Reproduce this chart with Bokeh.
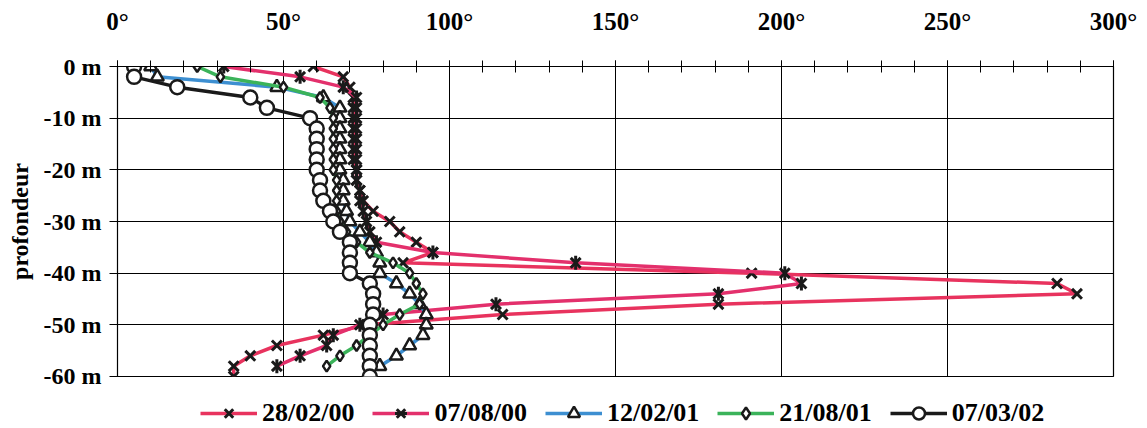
from bokeh.plotting import figure
from bokeh.layouts import column
from bokeh.models import (Range1d, FixedTicker, Legend, LegendItem, CustomJSTickFormatter)
from bokeh.embed import file_html
from bokeh.resources import INLINE

depths = [0, -2, -4, -6, -8, -10, -12, -14, -16, -18, -20, -22, -24, -26, -28, -30,
          -32, -34, -36, -38, -40, -42, -44, -46, -48, -50, -52, -54, -56, -58, -60]

s_280200 = [59, 68, 70, 71, 71, 71, 71, 71, 71, 71, 72, 72, 73, 74, 77, 82,
            85, 90, 95, 86, 191, 283, 289, 181, 116, 75, 62, 48, 40, 35, 35]
s_070800 = [32, 55, 68, 72, 72, 72, 72, 72, 72, 72, 72, 72, 73, 73, 74, 75,
            76, 78, 95, 138, 201, 206, 181, 114, 80, 73, 65, 63, 55, 48]
s_120201 = [10, 12, 48, 62, 67, 67, 67, 67, 67, 67, 67, 68, 68, 68, 69, 70,
            73, 76, 78, 79, 79, 84, 88, 91, 93, 93, 92, 88, 84, 79]
s_210801 = [24, 31, 50, 61, 64, 65, 65, 65, 65, 65, 65, 66, 66, 66, 66, 67,
            69, 72, 76, 83, 88, 90, 92, 91, 85, 80, 76, 72, 67, 63]
s_070302 = [5, 5, 18, 40, 45, 58, 60, 60, 60, 60, 60, 61, 61, 62, 64, 65,
            67, 70, 70, 70, 70, 76, 77, 77, 77, 76, 76, 76, 76, 76, 76]

labels = ["28/02/00", "07/08/00", "12/02/01", "21/08/01", "07/03/02"]
x_ticks = [0, 50, 100, 150, 200, 250, 300]
y_ticks = [0, -10, -20, -30, -40, -50, -60]

series = [s_280200, s_070800, s_120201, s_210801, s_070302]
colors = ["#e8335e", "#e3306c", "#3d8fd1", "#3bb35a", "#1a1a1a"]
markers = ["x", "x", "triangle", "diamond", "circle"]
msizes = [14, 14, 13, 11, 14]
mwidths = [3, 3, 2.5, 2.5, 2.5]

FONT = "Liberation Serif"
MK = "#1a1a1a"

p = figure(width=1139, height=388, output_backend="svg", toolbar_location=None,
           x_axis_location="above", x_range=Range1d(0, 300), y_range=Range1d(-60, 0),
           min_border_left=117, min_border_right=26, min_border_top=66, min_border_bottom=12)
p.background_fill_color = "white"
p.border_fill_color = "white"
p.outline_line_color = "black"
p.outline_line_width = 1.2

xa = p.xaxis[0]
xa.ticker = FixedTicker(ticks=x_ticks, minor_ticks=list(range(0, 301, 10)))
xa.formatter = CustomJSTickFormatter(code="return tick + '°';")
xa.major_label_text_font = FONT
xa.major_label_text_font_style = "bold"
xa.major_label_text_font_size = "25px"
xa.major_label_text_color = "black"
xa.major_label_standoff = 26
xa.major_tick_in = 6
xa.major_tick_out = 6
xa.minor_tick_in = 6
xa.minor_tick_out = 6
xa.axis_line_color = "black"
xa.major_tick_line_color = "black"
xa.minor_tick_line_color = "black"

ya = p.yaxis[0]
ya.ticker = FixedTicker(ticks=y_ticks, minor_ticks=[])
ya.formatter = CustomJSTickFormatter(code="return tick + ' m';")
ya.major_label_text_font = FONT
ya.major_label_text_font_style = "bold"
ya.major_label_text_font_size = "24px"
ya.major_label_text_color = "black"
ya.major_label_standoff = 8
ya.major_tick_in = 0
ya.major_tick_out = 8
ya.axis_line_color = "black"
ya.axis_label = "profondeur"
ya.axis_label_text_font = FONT
ya.axis_label_text_font_style = "bold"
ya.axis_label_text_font_size = "24px"
ya.axis_label_text_color = "black"
ya.axis_label_standoff = 8

p.xgrid.ticker = FixedTicker(ticks=x_ticks)
p.ygrid.ticker = FixedTicker(ticks=y_ticks)
p.xgrid.grid_line_color = "black"
p.ygrid.grid_line_color = "black"
p.xgrid.grid_line_width = 1
p.ygrid.grid_line_width = 1

# legend strip below the chart (its frame is aligned with the chart's frame)
lg = figure(width=1139, height=40, output_backend="svg", toolbar_location=None,
            x_axis_location=None, y_axis_location=None,
            x_range=Range1d(0, 1), y_range=Range1d(0, 1),
            min_border_left=0, min_border_right=0, min_border_top=0, min_border_bottom=0)
lg.grid.visible = False
lg.outline_line_color = None
lg.background_fill_color = "white"
lg.border_fill_color = "white"

items = []
for i, (lab, vals, col, mk, ms, mw) in enumerate(zip(labels, series, colors, markers, msizes, mwidths)):
    ys = depths[:len(vals)]
    p.line(vals, ys, line_color=col, line_width=3.5)
    p.scatter(vals, ys, marker=mk, size=ms, line_color=MK, fill_color="white", line_width=mw)
    if i == 1:
        p.scatter(vals, ys, marker="dash", angle=1.5708, size=ms, line_color=MK, line_width=mw)
    rl = lg.line([-5, -4], [-5, -4], line_color=col, line_width=3.5)
    rs = lg.scatter([-5], [-5], marker=mk, size=ms, line_color=MK, fill_color="white", line_width=mw)
    rens = [rl, rs]
    if i == 1:
        rd = lg.scatter([-5], [-5], marker="dash", angle=1.5708, size=ms, line_color=MK, line_width=mw)
        rens.append(rd)
    items.append(LegendItem(label=lab, renderers=rens))

legend = Legend(items=items, orientation="horizontal", location=(83, 0),
                label_text_font=FONT, label_text_font_style="bold",
                label_text_font_size="26px", label_text_color="black",
                glyph_width=57, glyph_height=30,
                spacing=18, label_standoff=5, border_line_color=None,
                background_fill_alpha=0, padding=0, margin=0)
lg.add_layout(legend)

open("out.html", "w").write(file_html(column(p, lg), INLINE))
